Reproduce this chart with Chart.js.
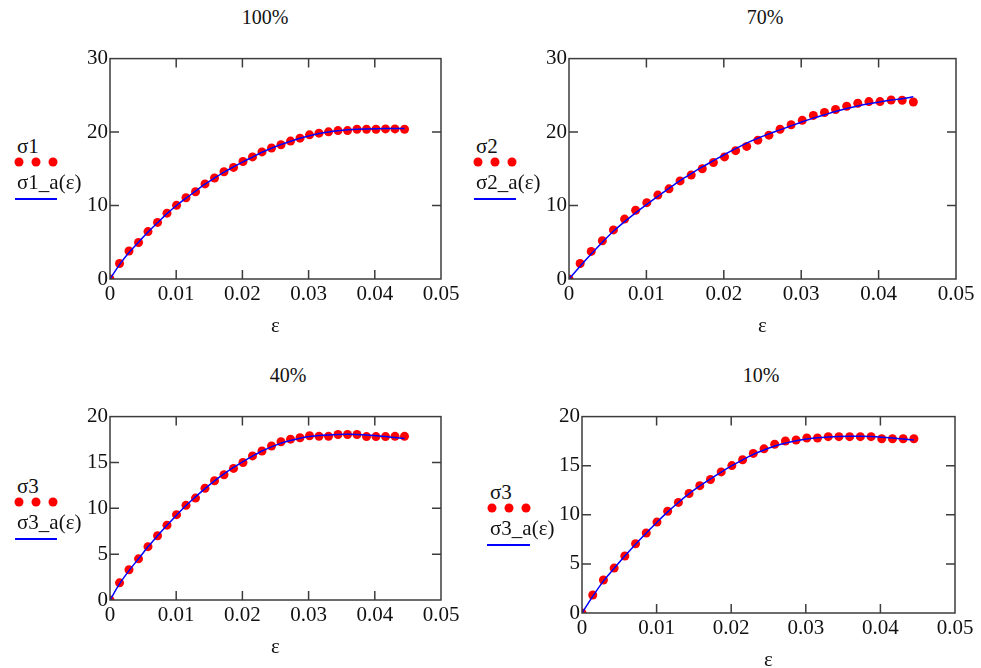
<!DOCTYPE html>
<html>
<head>
<meta charset="UTF-8">
<title>sigma - epsilon</title>
<script src="https://cdn.jsdelivr.net/npm/chart.js"></script>
<style>
  html, body { margin: 0; padding: 0; background: #fff; overflow: hidden; }
  body { width: 981px; height: 668px; position: relative; font-family: 'Liberation Serif', 'Times New Roman', serif; color: #111; }
  canvas { position: absolute; }
  .txt { position: absolute; font-size: 21px; line-height: 22px; white-space: nowrap; }
  .ttl { position: absolute; font-size: 20px; line-height: 22px; white-space: nowrap; transform: translateX(-50%); }
  .dot { position: absolute; width: 9px; height: 9px; border-radius: 50%; background: #ff0000; transform: translate(-50%, -50%); }
  .ln { position: absolute; height: 1.5px; background: #0000ff; }
</style>
</head>
<body>
  <div class="ttl" style="left:265px; top:6px;">100%</div>
  <div class="ttl" style="left:765px; top:6px;">70%</div>
  <div class="ttl" style="left:288px; top:364px;">40%</div>
  <div class="ttl" style="left:761px; top:364px;">10%</div>

  <canvas id="c1"></canvas>
  <canvas id="c2"></canvas>
  <canvas id="c3"></canvas>
  <canvas id="c4"></canvas>

  <div id="legendas"></div>

<script>
  // deformação (eixo x), igual nos 4 ensaios
  const eps = [0, 0.00144, 0.00287, 0.00431, 0.00574, 0.00718, 0.00861, 0.01005,
    0.01148, 0.01292, 0.01435, 0.01579, 0.01722, 0.01866, 0.02009, 0.02153,
    0.02296, 0.0244, 0.02583, 0.02727, 0.0287, 0.03014, 0.03157, 0.03301,
    0.03444, 0.03588, 0.03731, 0.03875, 0.04018, 0.04162, 0.04305, 0.04449];

  // 100%
  const sigma1 = [0, 2.11, 3.81, 4.97, 6.45, 7.70, 8.96, 10.03, 11.06, 11.87, 12.94, 13.75,
    14.6, 15.19, 15.99, 16.62, 17.3, 17.83, 18.28, 18.77, 19.17, 19.62, 19.85, 20.03,
    20.2, 20.2, 20.38, 20.38, 20.38, 20.43, 20.43, 20.38];
  const sigma1_a = [0, 1.95, 3.6, 5.0, 6.4, 7.65, 8.9, 10.0, 11.0, 11.95, 12.9, 13.75,
    14.55, 15.25, 15.95, 16.6, 17.25, 17.8, 18.3, 18.75, 19.15, 19.5, 19.8, 20.02,
    20.18, 20.3, 20.38, 20.42, 20.45, 20.47, 20.48, 20.48];

  // 70%
  const sigma2 = [0, 2.11, 3.76, 5.2, 6.68, 8.15, 9.36, 10.39, 11.42, 12.27, 13.35, 14.15,
    15.0, 15.86, 16.62, 17.47, 18.05, 18.9, 19.58, 20.38, 21.0, 21.6, 22.27, 22.67,
    23.07, 23.52, 23.92, 24.15, 24.15, 24.37, 24.33, 24.1];
  const sigma2_a = [0, 1.75, 3.4, 5.0, 6.5, 7.8, 9.0, 10.15, 11.25, 12.35, 13.4, 14.35,
    15.25, 16.1, 16.95, 17.75, 18.5, 19.15, 19.75, 20.3, 20.85, 21.4, 21.9, 22.35,
    22.8, 23.2, 23.55, 23.85, 24.1, 24.35, 24.55, 24.8];

  // 40%
  const sigma3 = [0, 1.87, 3.3, 4.49, 5.82, 7.01, 8.16, 9.31, 10.32, 11.11, 12.19, 13.01,
    13.66, 14.35, 14.99, 15.71, 16.25, 16.79, 17.26, 17.54, 17.69, 17.91, 17.85, 17.85,
    18.05, 18.05, 18.05, 17.82, 17.82, 17.82, 17.85, 17.85];
  const sigma3_a = [0, 1.75, 3.2, 4.5, 5.8, 7.0, 8.15, 9.25, 10.3, 11.25, 12.15, 13.0,
    13.75, 14.45, 15.1, 15.7, 16.25, 16.7, 17.1, 17.4, 17.65, 17.82, 17.93, 18.0,
    18.05, 18.07, 18.05, 18.0, 17.92, 17.83, 17.72, 17.6];

  // 10%
  const sigma4 = [0, 1.83, 3.36, 4.57, 5.8, 7.05, 8.15, 9.26, 10.36, 11.26, 12.17, 12.97,
    13.6, 14.37, 15.01, 15.61, 16.25, 16.72, 17.18, 17.52, 17.62, 17.82, 17.82, 17.96,
    17.96, 17.96, 17.96, 17.96, 17.75, 17.75, 17.75, 17.75];
  const sigma4_a = [0, 1.7, 3.25, 4.55, 5.8, 7.0, 8.15, 9.25, 10.3, 11.25, 12.15, 12.95,
    13.65, 14.35, 15.0, 15.6, 16.15, 16.6, 17.0, 17.3, 17.55, 17.72, 17.85, 17.93,
    17.98, 18.0, 18.0, 17.97, 17.9, 17.82, 17.72, 17.62];

  const xTicks = [0, 0.01, 0.02, 0.03, 0.04, 0.05];
  const yTicks30 = [0, 10, 20, 30];
  const yTicks20 = [0, 5, 10, 15, 20];

  const FONTE = "'Liberation Serif', 'Times New Roman', serif";
  const ESQ = 45, TOPO = 12, DIR = 22, BAIXO = 60;

  // moldura com tracinhos para dentro, estilo Mathcad
  const moldura = {
    id: 'moldura',
    afterDraw(chart) {
      const { ctx, chartArea: a, scales } = chart;
      const tam = 9;
      ctx.save();
      ctx.strokeStyle = '#3c3c3c';
      ctx.lineWidth = 1.5;
      ctx.beginPath();
      scales.x.ticks.forEach(t => {
        const px = scales.x.getPixelForValue(t.value);
        if (px <= a.left + 1 || px >= a.right - 1) return;
        ctx.moveTo(px, a.bottom); ctx.lineTo(px, a.bottom - tam);
        ctx.moveTo(px, a.top); ctx.lineTo(px, a.top + tam);
      });
      scales.y.ticks.forEach(t => {
        const py = scales.y.getPixelForValue(t.value);
        if (py <= a.top + 1 || py >= a.bottom - 1) return;
        ctx.moveTo(a.left, py); ctx.lineTo(a.left + tam, py);
        ctx.moveTo(a.right, py); ctx.lineTo(a.right - tam, py);
      });
      ctx.stroke();
      ctx.strokeRect(a.left, a.top, a.right - a.left, a.bottom - a.top);
      ctx.restore();
    }
  };

  function montarGrafico(id, caixa, yTicks, medidos, ajuste) {
    const cv = document.getElementById(id);
    const w = caixa.r - caixa.l + ESQ + DIR;
    const h = caixa.b - caixa.t + TOPO + BAIXO;
    cv.width = w; cv.height = h;
    cv.style.left = (caixa.l - ESQ) + 'px';
    cv.style.top = (caixa.t - TOPO) + 'px';

    const yMax = yTicks[yTicks.length - 1];

    return new Chart(cv.getContext('2d'), {
      type: 'scatter',
      data: {
        datasets: [
          {
            label: 'ajuste',
            data: eps.map((e, i) => ({ x: e, y: ajuste[i] })),
            showLine: true,
            borderColor: '#0000ff',
            borderWidth: 1.5,
            pointRadius: 0,
            cubicInterpolationMode: 'monotone',
            clip: 0
          },
          {
            label: 'medido',
            data: eps.map((e, i) => ({ x: e, y: medidos[i] })),
            pointRadius: 4.5,
            pointBackgroundColor: '#ff0000',
            pointBorderWidth: 0,
            clip: 0
          }
        ]
      },
      options: {
        responsive: false,
        animation: false,
        events: [],
        layout: { padding: { left: 0, top: TOPO, right: DIR, bottom: 0 } },
        plugins: { legend: { display: false }, tooltip: { enabled: false } },
        scales: {
          x: {
            type: 'linear',
            min: 0, max: 0.05,
            afterBuildTicks: s => { s.ticks = xTicks.map(v => ({ value: v })); },
            afterFit: s => { s.height = BAIXO; },
            grid: { display: false, drawTicks: false },
            border: { display: false },
            ticks: {
              padding: 3,
              color: '#111',
              font: { family: FONTE, size: 21 },
              maxRotation: 0,
              callback: v => v === 0 ? '0' : v.toFixed(2)
            },
            title: {
              display: true,
              text: 'ε',
              color: '#111',
              font: { family: FONTE, size: 21 },
              padding: { top: 0, bottom: 0 }
            }
          },
          y: {
            type: 'linear',
            min: 0, max: yMax,
            afterBuildTicks: s => { s.ticks = yTicks.map(v => ({ value: v })); },
            afterFit: s => { s.width = ESQ; },
            grid: { display: false, drawTicks: false },
            border: { display: false },
            ticks: {
              padding: 2,
              color: '#111',
              font: { family: FONTE, size: 21 }
            }
          }
        }
      },
      plugins: [moldura]
    });
  }

  montarGrafico('c1', { l: 110, t: 56, r: 441, b: 279 }, yTicks30, sigma1, sigma1_a);
  montarGrafico('c2', { l: 569, t: 56, r: 956, b: 279 }, yTicks30, sigma2, sigma2_a);
  montarGrafico('c3', { l: 110, t: 414, r: 441, b: 600 }, yTicks20, sigma3, sigma3_a);
  montarGrafico('c4', { l: 582, t: 414, r: 955, b: 613 }, yTicks20, sigma4, sigma4_a);

  // legendas à esquerda de cada gráfico
  const legendas = [
    { nome: 'σ1', ajuste: 'σ1_a(ε)', x: 17, y: 146, dots: [19, 36, 53], lx: 15, lw: 42 },
    { nome: 'σ2', ajuste: 'σ2_a(ε)', x: 476, y: 146, dots: [478, 495, 512], lx: 474, lw: 42 },
    { nome: 'σ3', ajuste: 'σ3_a(ε)', x: 17, y: 486, dots: [19, 36, 53], lx: 15, lw: 42 },
    { nome: 'σ3', ajuste: 'σ3_a(ε)', x: 490, y: 492, dots: [492, 509, 526], lx: 487, lw: 43 }
  ];
  const caixaLeg = document.getElementById('legendas');
  legendas.forEach(l => {
    let html = '';
    html += `<div class="txt" style="left:${l.x}px; top:${l.y - 11}px;">${l.nome}</div>`;
    l.dots.forEach(d => {
      html += `<div class="dot" style="left:${d}px; top:${l.y + 15.5}px;"></div>`;
    });
    html += `<div class="txt" style="left:${l.x}px; top:${l.y + 25}px;">${l.ajuste}</div>`;
    html += `<div class="ln" style="left:${l.lx}px; top:${l.y + 52}px; width:${l.lw}px;"></div>`;
    caixaLeg.innerHTML += html;
  });
</script>
</body>
</html>
